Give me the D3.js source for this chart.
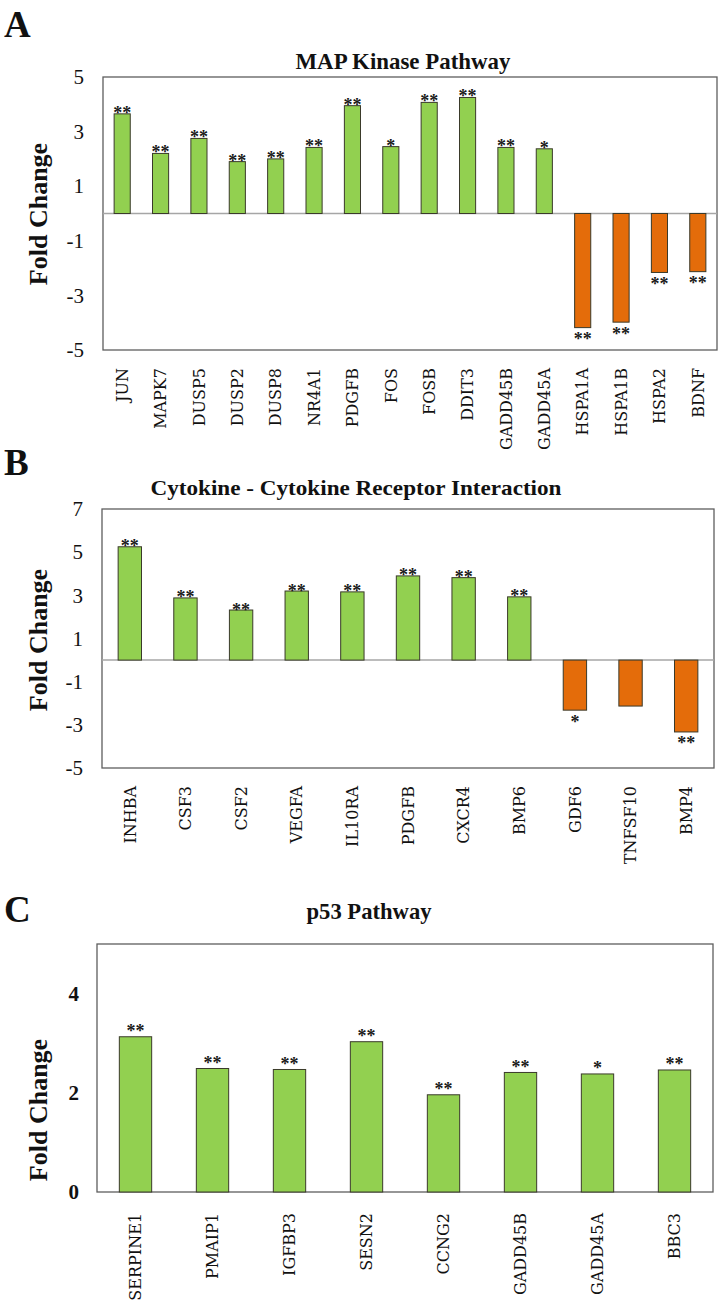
<!DOCTYPE html>
<html>
<head>
<meta charset="utf-8">
<script src="https://cdn.jsdelivr.net/npm/d3@7"></script>
<style>
  html, body { margin: 0; padding: 0; background: #fff; }
  svg { display: block; }
</style>
</head>
<body>
<svg id="chart" width="724" height="1305"></svg>
<script>
// ---- Panel A: MAP Kinase Pathway ----
const mapkGenes = ["JUN","MAPK7","DUSP5","DUSP2","DUSP8","NR4A1","PDGFB","FOS","FOSB","DDIT3","GADD45B","GADD45A","HSPA1A","HSPA1B","HSPA2","BDNF"];
const mapkValues = [3.65, 2.2, 2.75, 1.9, 2.0, 2.42, 3.95, 2.45, 4.07, 4.25, 2.42, 2.37, -4.18, -3.98, -2.16, -2.13];
const mapkSig = ["**","**","**","**","**","**","**","*","**","**","**","*","**","**","**","**"];
const mapkTicks = [5, 3, 1, -1, -3, -5];

// ---- Panel B: Cytokine - Cytokine Receptor Interaction ----
const cytoGenes = ["INHBA","CSF3","CSF2","VEGFA","IL10RA","PDGFB","CXCR4","BMP6","GDF6","TNFSF10","BMP4"];
const cytoValues = [5.25, 2.88, 2.32, 3.2, 3.16, 3.9, 3.82, 2.93, -2.32, -2.13, -3.33];
const cytoSig = ["**","**","**","**","**","**","**","**","*","","**"];
const cytoTicks = [7, 5, 3, 1, -1, -3, -5];

// ---- Panel C: p53 Pathway ----
const p53Genes = ["SERPINE1","PMAIP1","IGFBP3","SESN2","CCNG2","GADD45B","GADD45A","BBC3"];
const p53Values = [3.13, 2.49, 2.47, 3.03, 1.96, 2.41, 2.38, 2.46];
const p53Sig = ["**","**","**","**","**","**","*","**"];
const p53Ticks = [0, 2, 4];

const GREEN = "#92d050", ORANGE = "#e46c0a";
const svg = d3.select("#chart");

function drawPanel(o) {
  const g = svg.append("g");
  const x = d3.scaleBand().domain(o.genes).range([o.x0, o.x1]).paddingInner(0.58).paddingOuter(0.29);
  const y = d3.scaleLinear().domain(o.domain).range([o.yBot, o.yTop]);

  // panel letter
  g.append("text").attr("x", 4).attr("y", o.letterY)
    .attr("font-family", "Liberation Serif, serif").attr("font-weight", "bold")
    .attr("font-size", 37).attr("fill", "#111").text(o.letter);

  // title
  g.append("text").attr("x", o.titleX).attr("y", o.titleY).attr("text-anchor", "middle")
    .attr("font-family", "Liberation Serif, serif").attr("font-weight", "bold")
    .attr("font-size", o.titleSize).attr("fill", "#111")
    .attr("textLength", o.titleW).attr("lengthAdjust", "spacingAndGlyphs")
    .text(o.title);

  // plot box
  g.append("rect").attr("x", o.x0).attr("y", y.range()[1]).attr("width", o.x1 - o.x0)
    .attr("height", y.range()[0] - y.range()[1])
    .attr("fill", "none").attr("stroke", "#5e5e5e").attr("stroke-width", 1.3);

  // zero line
  if (o.domain[0] < 0) {
    g.append("line").attr("x1", o.x0).attr("x2", o.x1).attr("y1", y(0)).attr("y2", y(0))
      .attr("stroke", "#a6a6a6").attr("stroke-width", 1.5);
  }

  // y axis ticks
  const ax = g.append("g").attr("transform", `translate(${o.tickRight},0)`)
    .call(d3.axisLeft(y).tickValues(o.ticks).tickSize(0).tickPadding(0).tickFormat(d => String(d)));
  ax.select(".domain").remove();
  ax.selectAll("text").attr("font-family", "Liberation Serif, serif")
    .attr("font-size", 21).attr("font-weight", o.tickBold ? "bold" : "normal").attr("fill", "#111");

  // y title
  g.append("text").attr("transform", `translate(${o.fcX},${o.fcY}) rotate(-90)`)
    .attr("text-anchor", "middle").attr("dy", "0.35em")
    .attr("font-family", "Liberation Serif, serif").attr("font-weight", "bold")
    .attr("font-size", 26).attr("fill", "#111").text("Fold Change");

  const data = o.genes.map((gname, i) => ({ g: gname, v: o.values[i], s: o.sig[i] }));

  // bars
  g.selectAll("rect.bar").data(data).enter().append("rect").attr("class", "bar")
    .attr("x", d => x(d.g)).attr("width", x.bandwidth())
    .attr("y", d => y(Math.max(0, d.v)))
    .attr("height", d => Math.abs(y(d.v) - y(0)))
    .attr("fill", d => d.v >= 0 ? GREEN : ORANGE)
    .attr("stroke", "#3a3a2a").attr("stroke-width", 1);

  // significance stars
  g.selectAll("text.sig").data(data).enter().append("text").attr("class", "sig")
    .attr("x", d => x(d.g) + x.bandwidth() / 2)
    .attr("y", d => d.v >= 0 ? y(d.v) + 8.5 - o.starAbove : y(d.v) + 17.5)
    .attr("text-anchor", "middle")
    .attr("font-family", "Liberation Serif, serif").attr("font-weight", "bold")
    .attr("font-size", 18).attr("fill", "#1a1a1a").text(d => d.s);

  // category labels
  g.selectAll("text.lab").data(data).enter().append("text").attr("class", "lab")
    .attr("transform", d => `translate(${x(d.g) + x.bandwidth() / 2},${o.labelY}) rotate(-90)`)
    .attr("text-anchor", "end").attr("dy", "0.36em")
    .attr("font-family", "DejaVu Serif, serif").attr("font-size", 16).attr("fill", "#111")
    .text(d => d.g);
}

drawPanel({
  letter: "A", letterY: 37,
  title: "MAP Kinase Pathway", titleX: 403, titleY: 69, titleSize: 23, titleW: 215,
  genes: mapkGenes, values: mapkValues, sig: mapkSig, ticks: mapkTicks,
  x0: 103, x1: 717, yTop: 77, yBot: 350, domain: [-5, 5],
  tickRight: 84, tickBold: false, fcX: 38, fcY: 214, labelY: 368, starAbove: 3.5
});

drawPanel({
  letter: "B", letterY: 475,
  title: "Cytokine - Cytokine Receptor Interaction", titleX: 356, titleY: 495, titleSize: 22, titleW: 411,
  genes: cytoGenes, values: cytoValues, sig: cytoSig, ticks: cytoTicks,
  x0: 102, x1: 714, yTop: 509, yBot: 768, domain: [-5, 7],
  tickRight: 83, tickBold: false, fcX: 38, fcY: 640, labelY: 786, starAbove: 3
});

drawPanel({
  letter: "C", letterY: 922,
  title: "p53 Pathway", titleX: 369, titleY: 919, titleSize: 23, titleW: 125,
  genes: p53Genes, values: p53Values, sig: p53Sig, ticks: p53Ticks,
  x0: 97, x1: 713, yTop: 944, yBot: 1192, domain: [0, 5],
  tickRight: 79, tickBold: true, fcX: 38, fcY: 1110, labelY: 1213, starAbove: 8
});
</script>
</body>
</html>
